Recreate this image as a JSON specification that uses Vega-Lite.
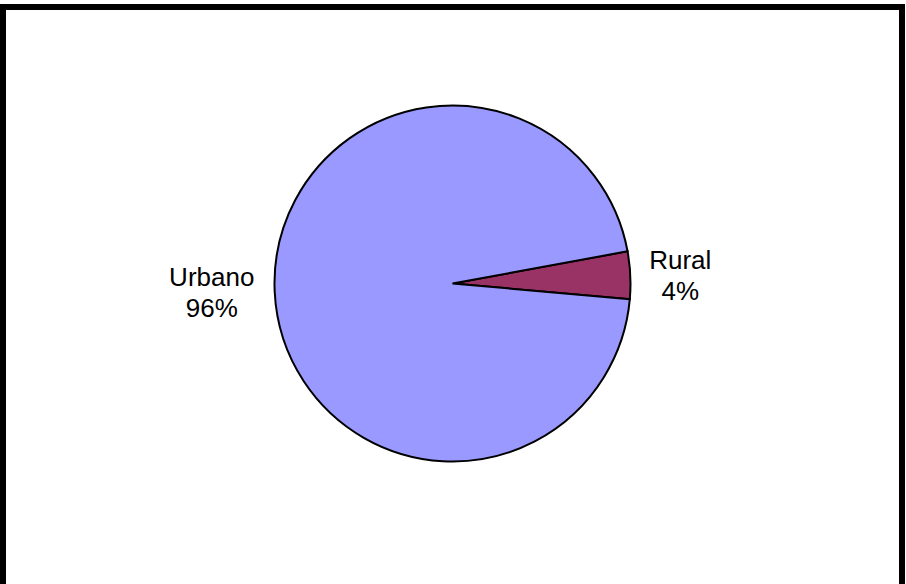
{
  "$schema": "https://vega.github.io/schema/vega-lite/v6.json",
  "width": 899,
  "height": 580,
  "autosize": {"type": "none"},
  "padding": {"left": 3, "top": 7, "right": 4, "bottom": -3},
  "background": "white",
  "view": {"stroke": "black", "strokeWidth": 6, "fill": "white"},
  "config": {
    "view": {"stroke": "black", "strokeWidth": 6},
    "text": {"font": "Liberation Sans"}
  },
  "data": {
    "values": [
      {"category": "Rural", "value": 4.3},
      {"category": "Urbano", "value": 95.7}
    ]
  },
  "transform": [
    {"stack": "value", "groupby": [], "sort": [{"field": "category", "order": "ascending"}], "as": ["v0", "v1"]},
    {"calculate": "(datum.v0 + datum.v1) / 2", "as": "mid"},
    {"calculate": "datum.category + '\\n' + format(datum.value, '.0f') + '%'", "as": "label"}
  ],
  "layer": [
    {
      "mark": {"type": "arc", "outerRadius": 178, "stroke": "black", "strokeWidth": 2, "yOffset": -13.5},
      "encoding": {
        "theta": {"field": "v0", "type": "quantitative", "scale": {"domain": [0, 100], "range": [1.389, 7.672]}},
        "theta2": {"field": "v1"},
        "color": {"field": "category", "type": "nominal", "scale": {"domain": ["Rural", "Urbano"], "range": ["#993366", "#9999FF"]}, "legend": null}
      }
    },
    {
      "transform": [{"filter": "datum.category == 'Urbano'"}],
      "mark": {"type": "text", "radius": 241, "align": "center", "baseline": "middle", "fontSize": 26, "lineHeight": 31, "lineBreak": "\n", "yOffset": -30, "color": "black"},
      "encoding": {
        "theta": {"field": "mid", "type": "quantitative", "scale": {"domain": [0, 100], "range": [1.389, 7.672]}},
        "text": {"field": "label"}
      }
    },
    {
      "transform": [{"filter": "datum.category == 'Rural'"}],
      "mark": {"type": "text", "radius": 228, "align": "center", "baseline": "middle", "fontSize": 26, "lineHeight": 31, "lineBreak": "\n", "yOffset": -25.5, "color": "black"},
      "encoding": {
        "theta": {"field": "mid", "type": "quantitative", "scale": {"domain": [0, 100], "range": [1.389, 7.672]}},
        "text": {"field": "label"}
      }
    }
  ]
}
